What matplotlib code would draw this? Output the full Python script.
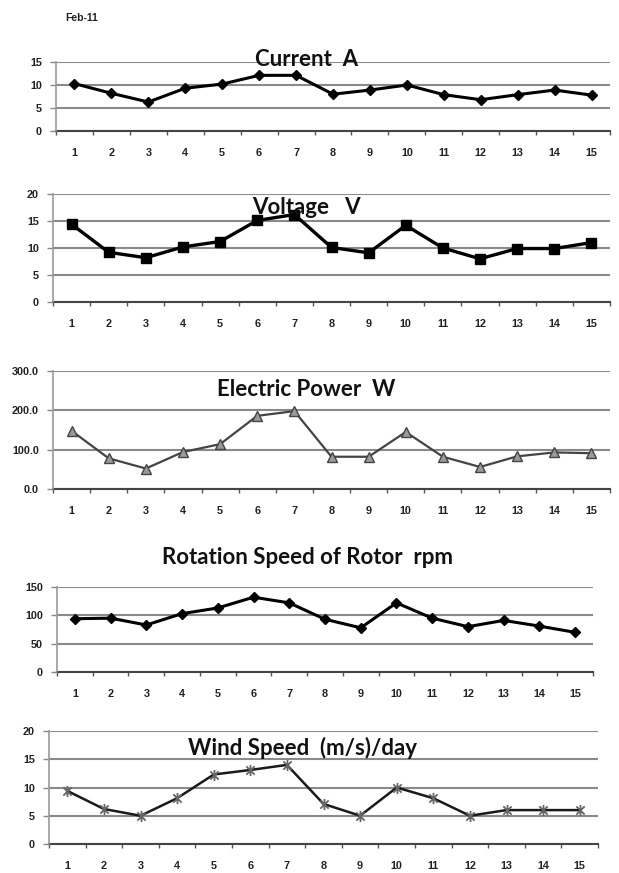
import matplotlib
matplotlib.use("Agg")
import matplotlib.pyplot as plt
from matplotlib.path import Path
from matplotlib.ticker import FixedLocator, FormatStrFormatter

days = list(range(1, 16))

current_a = [10.3, 8.2, 6.3, 9.3, 10.2, 12.1, 12.1, 8.0, 8.9, 10.0, 7.9, 6.8, 7.9, 8.9, 7.8]
voltage_v = [14.4, 9.2, 8.2, 10.2, 11.2, 15.1, 16.2, 10.1, 9.1, 14.2, 10.0, 8.0, 9.9, 9.9, 11.0]
power_w = [148, 78, 52, 94, 114, 186, 198, 82, 82, 145, 82, 56, 83, 93, 91]
rotor_rpm = [94, 95, 83, 103, 113, 132, 122, 93, 78, 122, 95, 80, 91, 81, 70]
wind_ms = [9.4, 6.2, 5.0, 8.1, 12.3, 13.1, 14.0, 7.1, 5.0, 10.0, 8.1, 5.0, 6.0, 6.0, 6.0]

titles = ["Current  A", "Voltage   V", "Electric Power  W",
          "Rotation Speed of Rotor  rpm", "Wind Speed  (m/s)/day"]
y_ticks = [[0, 5, 10, 15], [0, 5, 10, 15, 20], [0, 100, 200, 300],
           [0, 50, 100, 150], [0, 5, 10, 15, 20]]
y_fmt = ["%d", "%d", "%.1f", "%d", "%d"]

# spreadsheet-style star: a vertical bar crossed by an X
star = Path([(0, -1), (0, 1), (-0.75, -0.75), (0.75, 0.75), (-0.75, 0.75), (0.75, -0.75)],
            [Path.MOVETO, Path.LINETO, Path.MOVETO, Path.LINETO, Path.MOVETO, Path.LINETO])

W, H = 619, 873
fig = plt.figure(figsize=(W / 100, H / 100), dpi=100)
fig.patch.set_facecolor("white")

# axes boxes in pixels: left, right, top, bottom
boxes = [(56, 610, 62, 131), (53, 610, 194, 302), (53, 610, 371, 489),
         (57, 593, 587, 672), (49, 598, 731, 844)]
# title centres in pixels
title_pos = [(307, 60), (306, 207), (306, 390), (308, 558), (302, 748)]

styles = [
    dict(color="black", lw=2.2, marker="D", ms=5.5, mfc="black", mec="black"),
    dict(color="black", lw=2.4, marker="s", ms=6.5, mfc="black", mec="black"),
    dict(color="#444444", lw=1.6, marker="^", ms=7, mfc="#9a9a9a", mec="#444444", mew=1.0),
    dict(color="black", lw=2.2, marker="D", ms=5.5, mfc="black", mec="black"),
    dict(color="#1a1a1a", lw=1.8, marker=star, ms=8, mfc="none", mec="#666666", mew=1.3),
]
series = [current_a, voltage_v, power_w, rotor_rpm, wind_ms]

tick_family = ["Liberation Sans", "DejaVu Sans"]

for i in range(5):
    l, r, t, b = boxes[i]
    ax = fig.add_axes([l / W, 1 - b / H, (r - l) / W, (b - t) / H])
    ax.set_facecolor("none")
    ax.plot(days, series[i], zorder=3, clip_on=False, **styles[i])
    ax.set_xlim(0.5, 15.5)
    ax.set_ylim(y_ticks[i][0], y_ticks[i][-1])
    ax.set_yticks(y_ticks[i])
    ax.yaxis.set_major_formatter(FormatStrFormatter(y_fmt[i]))
    ax.set_xticks(days)
    ax.xaxis.set_minor_locator(FixedLocator([d + 0.5 for d in range(0, 16)]))
    ax.tick_params(axis="x", which="major", length=0, pad=12)
    ax.tick_params(axis="x", which="minor", length=3, width=1.0, color="#555555", direction="out")
    ax.tick_params(axis="y", which="major", length=4, width=1.0, color="#888888", pad=6)
    for lab in ax.get_xticklabels() + ax.get_yticklabels():
        lab.set_fontfamily(tick_family)
        lab.set_fontweight("bold")
        lab.set_fontsize(7.8)
        lab.set_color("#222222")
    ax.grid(axis="y", color="#8a8a8a", lw=1.5, zorder=1)
    ax.set_axisbelow(True)
    for s in ("top", "right"):
        ax.spines[s].set_visible(False)
    ax.spines["left"].set_color("#999999")
    ax.spines["left"].set_linewidth(1.2)
    ax.spines["bottom"].set_color("#444444")
    ax.spines["bottom"].set_linewidth(1.5)
    ax.spines["bottom"].set_zorder(2)

    tx, ty = title_pos[i]
    fig.text(tx / W, 1 - ty / H, titles[i], ha="center", va="center",
             fontsize=16, fontweight="bold", family=["Lato", "DejaVu Sans"],
             color="#111111", zorder=5)

fig.text(65 / W, 1 - 18 / H, "Feb-11", ha="left", va="center",
         fontsize=7.5, fontweight="bold", family=tick_family,
         color="#222222")

fig.savefig("out.png", dpi=100, facecolor="white")
